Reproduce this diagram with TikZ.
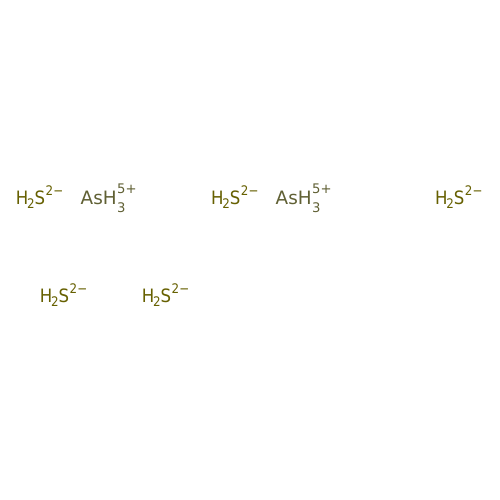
\documentclass[tikz,border=0pt]{standalone}
\usepackage{fontspec}
\setmainfont{DejaVu Sans}
\definecolor{sulf}{RGB}{102,96,0}
\definecolor{arsc}{RGB}{96,96,52}
\newcommand\subsz{\fontsize{13.2}{14}\selectfont}
\newcommand\hsulf{\scalebox{0.9}[1]{H\kern-1.4pt\raisebox{-4.2pt}{\subsz 2}S\kern0.4pt\raisebox{9pt}{\subsz 2\kern0.3pt−}}}
\newcommand\arsine{AsH\kern0.5pt\rlap{\raisebox{11.8pt}{\subsz 5+}}\raisebox{-8pt}{\subsz 3}}
\tikzset{
  lbl/.style={inner sep=0pt, anchor=base west, font=\fontsize{18.4}{20}\selectfont},
  hs/.style={lbl, text=sulf},
  as/.style={lbl, text=arsc}
}
\begin{document}
\begin{tikzpicture}[x=1pt,y=1pt]
\useasboundingbox[fill=white] (0,0) rectangle (500,500);
\node[hs] (s1) at (15.7,295.3) {\hsulf};
\node[as] (a1) at (80.5,295) {\arsine};
\node[hs] (s2) at (211,295.3) {\hsulf};
\node[as] (a2) at (275.5,295) {\arsine};
\node[hs] (s3) at (435,295.3) {\hsulf};
\node[hs] (s4) at (39.7,197.3) {\hsulf};
\node[hs] (s5) at (141.7,197.3) {\hsulf};
\end{tikzpicture}
\end{document}
